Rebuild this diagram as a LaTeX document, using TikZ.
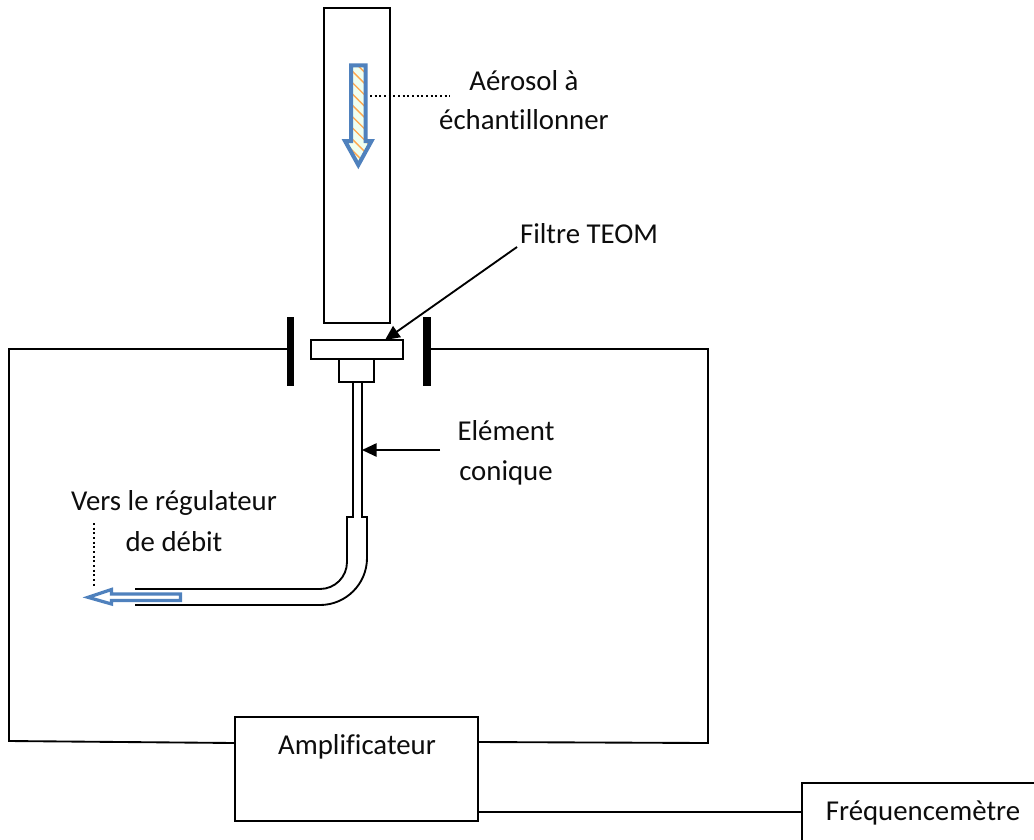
\documentclass[tikz,border=0pt]{standalone}
\usepackage{fontspec}
\setmainfont[Ligatures=NoCommon]{Carlito}
\usetikzlibrary{arrows.meta,patterns.meta,calc}
\definecolor{bluearrow}{RGB}{79,129,189}
\tikzset{
  wire/.style={line width=1.4pt,black},
  box/.style={draw=black,line width=1.4pt,fill=white,inner sep=0pt,outer sep=0pt,rectangle},
  bar/.style={fill=black,draw=none,inner sep=0pt,outer sep=0pt,rectangle,minimum width=5.6pt,minimum height=52pt},
  txt/.style={font=\fontsize{21.6pt}{24pt}\selectfont,text=black!95,inner sep=0pt,anchor=center},
  pointer/.style={line width=1.4pt,black,-{Triangle[length=11pt,width=10pt]}},
  dots/.style={line width=1.6pt,black,dash pattern=on 1.5pt off 2pt},
  blue arrow/.style={line width=3pt,draw=bluearrow,miter limit=10},
}
\begin{document}
\begin{tikzpicture}[x=0.75pt,y=-0.75pt]
\useasboundingbox (0,0) rectangle (1034,839);
\clip (0,0) rectangle (1034,839);
% tube
\node[box,minimum width=49.5pt,minimum height=236.25pt] (tube) at (357,165.5) {};
% bars
\node[bar] (barL) at (290.5,351.5) {};
\node[bar] (barR) at (427,351.5) {};
% filter and holder
\node[box,minimum width=69pt,minimum height=14.25pt] (filtre) at (357,349.5) {};
\node[box,minimum width=26.25pt,minimum height=17.25pt] (socle) at (356.5,370.5) {};
% amplifier, frequency meter (right and bottom edges fall outside the picture)
\node[box,minimum width=182.25pt,minimum height=78pt] (amp) at (356.5,769) {};
\node[box,minimum width=195pt,minimum height=60pt] (freq) at (932,823) {};
% circuit
\coordinate (c1) at (9,349);
\coordinate (c2) at (9,741);
\coordinate (a1) at (235,743);
\coordinate (c3) at (708,349);
\coordinate (c4) at (708,743);
\coordinate (a2) at (478,742);
\coordinate (a3) at (478,812);
\coordinate (f1) at (802,812);
\draw[wire] (barL.west |- c1) -- (c1) -- (c2) -- (a1);
\draw[wire] (barR.east |- c3) -- (c3) -- (c4) -- (a2);
\draw[wire] (a3) -- (f1);
% conical element
\draw[wire] (353,382) -- (353,517) -- (347,517) -- (347,562) arc[start angle=0,end angle=90,radius=27] -- (135,589);
\draw[wire] (362,382) -- (362,517) -- (367,517) -- (367,558) arc[start angle=0,end angle=90,radius=47] -- (135,605);
% blue arrows
\path[fill=green!6]
 (351.2,65.3) -- (365.5,65.3) -- (365.5,141) -- (371.5,141) -- (358.3,165) -- (345,141) -- (351.2,141) -- cycle;
\path[pattern={Lines[angle=-45,distance=6pt,line width=1pt]},pattern color=orange!70]
 (351.2,65.3) -- (365.5,65.3) -- (365.5,141) -- (371.5,141) -- (358.3,165) -- (345,141) -- (351.2,141) -- cycle;
\draw[blue arrow] (351.2,65.3) -- (365.5,65.3) -- (365.5,141) -- (371.5,141) -- (358.3,165) -- (345,141) -- (351.2,141) -- cycle;
\draw[blue arrow,line width=2.4pt,fill=white] (180.5,594) -- (111.5,594) -- (111.5,589.5) -- (88,597.3) -- (111.5,604) -- (111.5,600.4) -- (180.5,600.4) -- cycle;
% leader lines
\coordinate (d1) at (370,96);
\coordinate (d2) at (450,96);
\draw[dots] (d1) -- (d2);
\coordinate (d3) at (94,523);
\coordinate (d4) at (94,587);
\draw[dots] (d3) -- (d4);
% labels
\node[txt] (t1) at (524,81) {Aérosol à};
\node[txt] (t2) at (524,120) {échantillonner};
\node[txt] (t3) at (589,234) {Filtre TEOM};
\node[txt] (t4) at (506,431) {Elément};
\node[txt] (t5) at (506,473) {conique};
\node[txt] (t6) at (174,503) {Vers le régulateur};
\node[txt] (t7) at (174,542) {de débit};
\node[txt] (t8) at (357,747) {Amplificateur};
\node[txt] (t9) at (923,813) {Fréquencemètre};
% pointers
\coordinate (p1) at (517,247);
\coordinate (p2) at (385,340);
\draw[pointer] (p1) -- (p2);
\coordinate (p3) at (440,450);
\coordinate (p4) at (362,450);
\draw[pointer] (p3) -- (p4);
\end{tikzpicture}
\end{document}
